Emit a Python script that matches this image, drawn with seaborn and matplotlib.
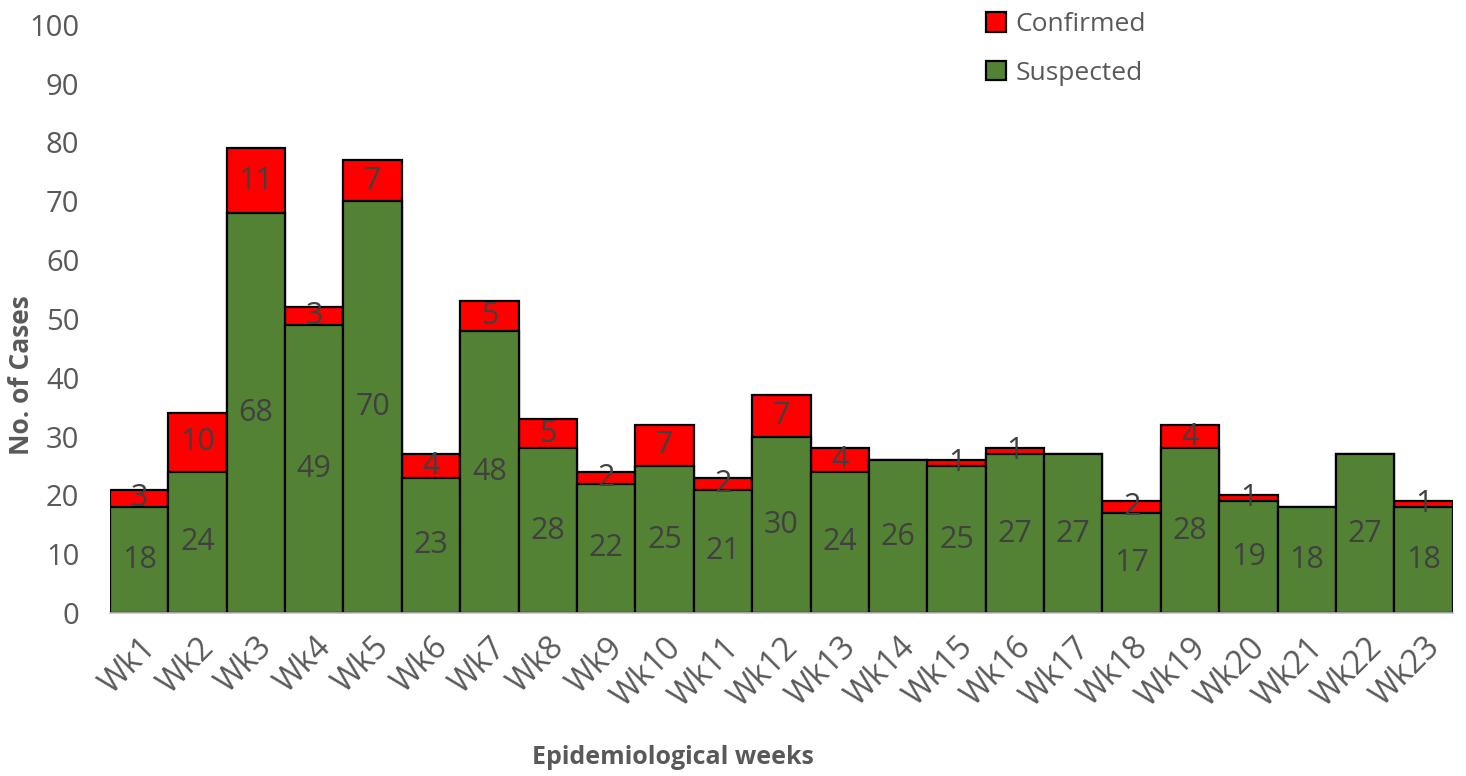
import matplotlib
matplotlib.use("Agg")
import matplotlib.pyplot as plt
import seaborn as sns
import pandas as pd
from matplotlib.patches import Patch

weeks = [f"Wk{i}" for i in range(1, 24)]
suspected = [18, 24, 68, 49, 70, 23, 48, 28, 22, 25, 21, 30, 24, 26, 25, 27, 27, 17, 28, 19, 18, 27, 18]
confirmed = [3, 10, 11, 3, 7, 4, 5, 5, 2, 7, 2, 7, 4, 0, 1, 1, 0, 2, 4, 1, 0, 0, 1]

GREEN = "#548235"
RED = "#FF0000"
LABEL_C = "#404040"
TICK_C = "#595959"

df = pd.DataFrame({"week": weeks, "suspected": suspected, "confirmed": confirmed})
df["total"] = df.suspected + df.confirmed

sns.set_theme(style="white")
plt.rcParams["font.family"] = ["Open Sans", "DejaVu Sans"]

fig, ax = plt.subplots(figsize=(14.66, 7.76), dpi=100)
fig.subplots_adjust(left=0.075, right=0.991, top=0.968, bottom=0.21)

# total first (red), suspected drawn over it (green)
sns.barplot(data=df, x="week", y="total", color=RED, width=1.0, saturation=1,
            edgecolor="black", linewidth=1.6, ax=ax)
sns.barplot(data=df, x="week", y="suspected", color=GREEN, width=1.0, saturation=1,
            edgecolor="black", linewidth=1.6, ax=ax)

# value labels centred in segments
for i, row in df.iterrows():
    ax.text(i, row.suspected / 2, str(row.suspected), ha="center", va="center",
            fontsize=22, color=LABEL_C)
    if row.confirmed > 0:
        ax.text(i, row.suspected + row.confirmed / 2, str(row.confirmed),
                ha="center", va="center", fontsize=22, color=LABEL_C)

ax.set_xlim(-0.5, len(weeks) - 0.5)
ax.set_ylim(0, 100)
ax.set_yticks(range(0, 101, 10))
ax.tick_params(axis="y", labelsize=21, labelcolor=TICK_C, length=0, pad=22)
ax.tick_params(axis="x", labelsize=23, labelcolor=TICK_C, length=0, pad=13)
plt.setp(ax.get_xticklabels(), rotation=45, ha="right", rotation_mode="anchor")

ax.set_ylabel("No. of Cases", fontsize=19, fontweight="bold", color=TICK_C, va="center")
ax.yaxis.set_label_coords(-0.066, 0.405)
ax.set_xlabel("Epidemiological weeks", fontsize=18, fontweight="bold", color=TICK_C, va="center")
ax.xaxis.set_label_coords(0.419, -0.245)

for side in ["top", "right", "left"]:
    ax.spines[side].set_visible(False)
ax.spines["bottom"].set_color("#BFBFBF")
ax.spines["bottom"].set_linewidth(1.2)

handles = [Patch(facecolor=RED, edgecolor="black", linewidth=1.6, label="Confirmed"),
           Patch(facecolor=GREEN, edgecolor="black", linewidth=1.6, label="Suspected")]
leg = ax.legend(handles=handles, loc="upper left", bbox_to_anchor=(0.635, 1.062),
                frameon=False, fontsize=19, handlelength=0.75, handleheight=0.75,
                handletextpad=0.35, labelspacing=0.9)
for t in leg.get_texts():
    t.set_color(TICK_C)

fig.savefig("out.png", dpi=100)
